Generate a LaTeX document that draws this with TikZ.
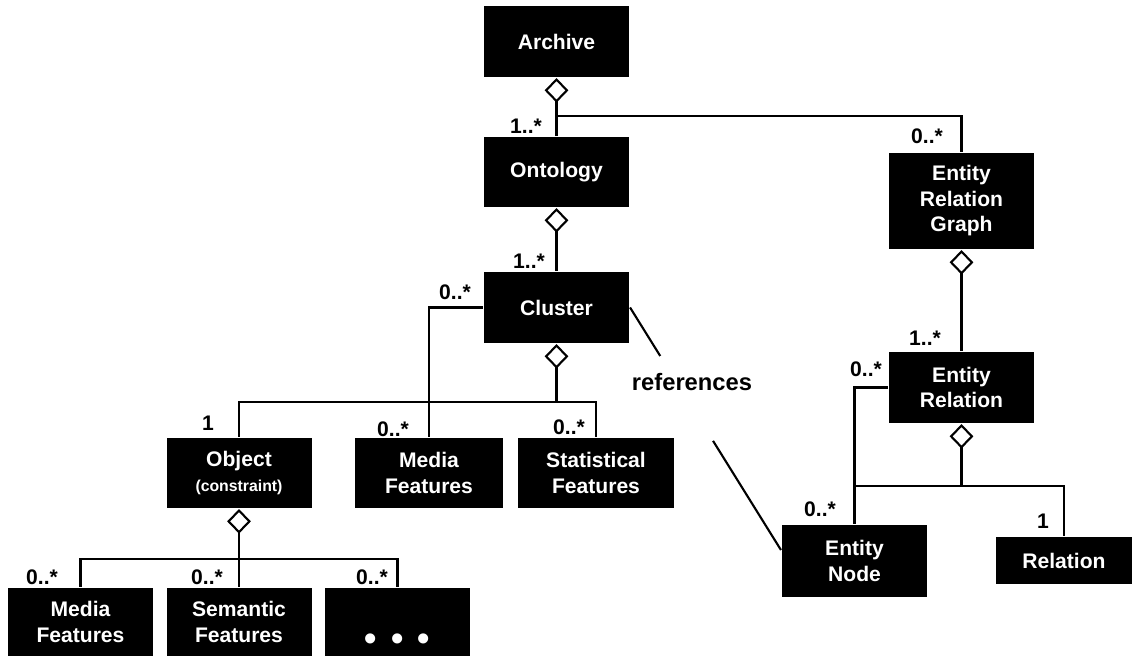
\documentclass[tikz,border=0pt]{standalone}
\usepackage{fontspec}
\setmainfont{Liberation Sans}
\usetikzlibrary{calc,arrows.meta}

\begin{document}
\begin{tikzpicture}[box/.style={rectangle, fill=black, text=white, align=center, minimum width=2.9cm, minimum height=1.4cm, inner sep=2pt, font=\fontsize{12}{14.5}\selectfont\bfseries},
  mult/.style={font=\fontsize{12}{14}\selectfont\bfseries, inner sep=1pt},
  agg/.style={{Diamond[open,length=14pt,width=13.5pt]}-},
  line width=1.2pt]
\useasboundingbox (0,0) rectangle (22.66,13.14);

\node[box, minimum height=1.42cm] at (11.13,12.31) (archive) {Archive};
\node[box] at (11.13,9.70) (onto) {Ontology};
\node[box, minimum height=1.42cm] at (11.13,6.99) (cluster) {Cluster};
\node[box, minimum height=1.92cm] at (19.23,9.12) (erg) {Entity\\Relation\\Graph};
\node[box, minimum height=1.42cm] at (19.23,5.39) (er) {Entity\\Relation};
\node[box] at (4.78,3.68) (obj) {Object\\{\fontsize{9}{11}\selectfont (constraint)}};
\node[box, minimum width=2.96cm] at (8.58,3.68) (mfeat) {Media\\Features};
\node[box, minimum width=3.12cm] at (11.92,3.68) (sfeat) {Statistical\\Features};
\node[box, minimum height=1.44cm] at (17.09,1.92) (enode) {Entity\\Node};
\node[box, minimum width=2.72cm, minimum height=0.94cm] at (21.28,1.93) (rel) {Relation};
\node[box, minimum height=1.36cm] at (1.61,0.70) (bmedia) {Media\\Features};
\node[box, minimum height=1.36cm] at (4.78,0.70) (bsem) {Semantic\\Features};
\node[box, minimum height=1.36cm] at (7.95,0.70) (dots) {\mbox{}\\\smash{\raisebox{-9pt}{\fontsize{20}{20}\selectfont\textbullet\hspace{8pt}\textbullet\hspace{8pt}\textbullet}}};

% branch points
\coordinate (abr) at (11.13,10.82);
\coordinate (cbr) at (11.13,5.10);
\coordinate (ebr) at (19.23,3.42);
\coordinate (obr) at (4.78,1.96);
\coordinate (rtip) at ($(enode.west)+(0,0.22)$);

\draw[agg] (archive.south) -- (onto.north);
\draw (abr) -| (erg.north);
\draw[agg] (onto.south) -- (cluster.north);
\draw[agg] (erg.south) -- (er.north);

\draw[agg] (cluster.south) -- (cbr);
\draw (obj.north) |- (cbr) -| (sfeat.north);
\draw (cluster.west) -| (mfeat.north);

\draw[agg] (obj.south) -- (obr);
\draw (bmedia.north) |- (obr) -| (dots.north);
\draw (obr) -- (bsem.north);

\draw[agg] (er.south) -- (ebr);
\draw (enode.north) |- (ebr) -| (rel.north);
\draw (er.west) -| (enode.north);

% references link
\draw (cluster.east) -- ($(cluster.east)!0.2!(rtip)$);
\draw ($(cluster.east)!0.55!(rtip)$) -- (rtip);
\node[font=\fontsize{13.5}{16}\selectfont\bfseries] at (13.84,5.50) (refs) {references};

% multiplicities
\node[mult] at (10.52,10.62) (m1) {1..*};
\node[mult] at (18.54,10.42) (m2) {0..*};
\node[mult] at (10.58,7.92) (m3) {1..*};
\node[mult] at (9.10,7.30) (m4) {0..*};
\node[mult] at (4.16,4.68) (m5) {1};
\node[mult] at (7.86,4.56) (m6) {0..*};
\node[mult] at (11.38,4.60) (m7) {0..*};
\node[mult] at (18.50,6.38) (m8) {1..*};
\node[mult] at (17.32,5.76) (m9) {0..*};
\node[mult] at (16.40,2.96) (m10) {0..*};
\node[mult] at (20.86,2.72) (m11) {1};
\node[mult] at (0.84,1.60) (m12) {0..*};
\node[mult] at (4.14,1.60) (m13) {0..*};
\node[mult] at (7.44,1.60) (m14) {0..*};

\end{tikzpicture}
\end{document}
